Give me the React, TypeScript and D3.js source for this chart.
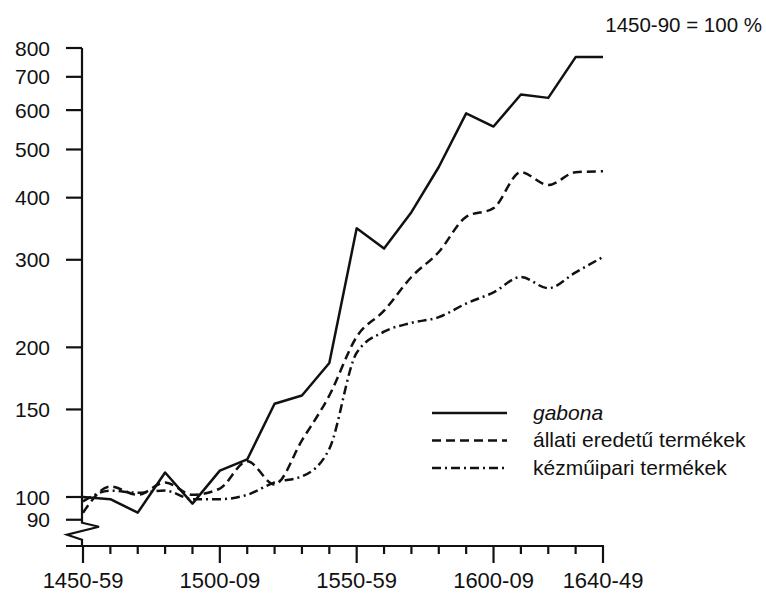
import React, { useEffect } from "react";
import * as d3 from "d3";

const decades = [
  "1450-59", "1460-69", "1470-79", "1480-89", "1490-99",
  "1500-09", "1510-19", "1520-29", "1530-39", "1540-49",
  "1550-59", "1560-69", "1570-79", "1580-89", "1590-99",
  "1600-09", "1610-19", "1620-29", "1630-39", "1640-49",
];
const labeledDecades = ["1450-59", "1500-09", "1550-59", "1600-09", "1640-49"];
const yTicks = [90, 100, 150, 200, 300, 400, 500, 600, 700, 800];

// gabona
const gabona = [100, 99, 93, 112, 97, 113, 119, 154, 160, 186, 347, 316, 374, 461, 591, 556, 645, 635, 767, 767];
// állati eredetű termékek
const allati = [93, 105, 101, 107, 101, 104, 118, 106, 130, 160, 210, 237, 277, 311, 366, 381, 450, 424, 450, 452];
// kézműipari termékek
const kezmuipari = [98, 103, 102, 103, 99, 99, 101, 107, 110, 125, 195, 215, 224, 230, 245, 258, 277, 263, 283, 304];

const series = [
  { name: "gabona", values: gabona, dash: "none", italic: true },
  { name: "állati eredetű termékek", values: allati, dash: "9,5", italic: false },
  { name: "kézműipari termékek", values: kezmuipari, dash: "9,4,2,4", italic: false },
];

const W = 766;
const H = 593;
const FONT = "'Liberation Sans', Arial, sans-serif";

export default function App() {
  useEffect(() => {
    document.body.style.margin = "0";
  }, []);

  const x = d3.scalePoint<string>().domain(decades).range([83, 603]);
  const y = d3.scaleLog().domain([100, 800]).range([497, 48]);
  const axisY = 546;
  const axisX = 82;

  const solidLine = d3.line<number>()
    .x((_, i) => x(decades[i]) as number)
    .y(d => y(d));
  const smoothLine = d3.line<number>()
    .x((_, i) => x(decades[i]) as number)
    .y(d => y(d))
    .curve(d3.curveMonotoneX);

  // tengelytörés (zigzag) a 90 alatt
  const breakTop = y(90) + 3;
  const zig = `M${axisX},${y(800)} L${axisX},${breakTop} L${axisX + 17},${breakTop + 4} L${axisX - 15},${breakTop + 12} L${axisX},${breakTop + 17} L${axisX},${axisY}`;

  return (
    <svg width={W} height={H} style={{ display: "block", background: "#fff" }} fontFamily={FONT}>
      <text x={762} y={32} textAnchor="end" fontSize={20.5} fill="#111">1450-90 = 100 %</text>

      {/* y tengely */}
      <path d={zig} fill="none" stroke="#111" strokeWidth={2.2} />
      {yTicks.map(t => (
        <g key={t}>
          <line x1={axisX - 16} x2={axisX} y1={y(t)} y2={y(t)} stroke="#111" strokeWidth={2.2} />
          <text x={50} y={y(t)} dy="0.36em" textAnchor="end" fontSize={21} fill="#111">{t}</text>
        </g>
      ))}

      {/* x tengely */}
      <line x1={66} x2={604} y1={axisY} y2={axisY} stroke="#111" strokeWidth={2.2} />
      {decades.map(d => {
        const major = labeledDecades.includes(d);
        return (
          <g key={d}>
            <line x1={x(d)} x2={x(d)} y1={axisY} y2={axisY + (major ? 17 : 8)} stroke="#111" strokeWidth={2.2} />
            {major && (
              <text x={x(d)} y={588} textAnchor="middle" fontSize={22} fill="#111">{d}</text>
            )}
          </g>
        );
      })}

      {/* görbék */}
      {series.map((s, i) => (
        <path
          key={s.name}
          d={(i === 0 ? solidLine : smoothLine)(s.values) || ""}
          fill="none"
          stroke="#111"
          strokeWidth={2.5}
          strokeDasharray={s.dash}
          strokeLinejoin="round"
        />
      ))}

      {/* jelmagyarázat */}
      {series.map((s, i) => (
        <g key={s.name} transform={`translate(0,${413 + i * 27.5})`}>
          <line x1={432} x2={507} y1={0} y2={0} stroke="#111" strokeWidth={2.5} strokeDasharray={s.dash} />
          <text x={533} y={0} dy="0.32em" fontSize={21} fontStyle={s.italic ? "italic" : "normal"} fill="#111">
            {s.name}
          </text>
        </g>
      ))}
    </svg>
  );
}
